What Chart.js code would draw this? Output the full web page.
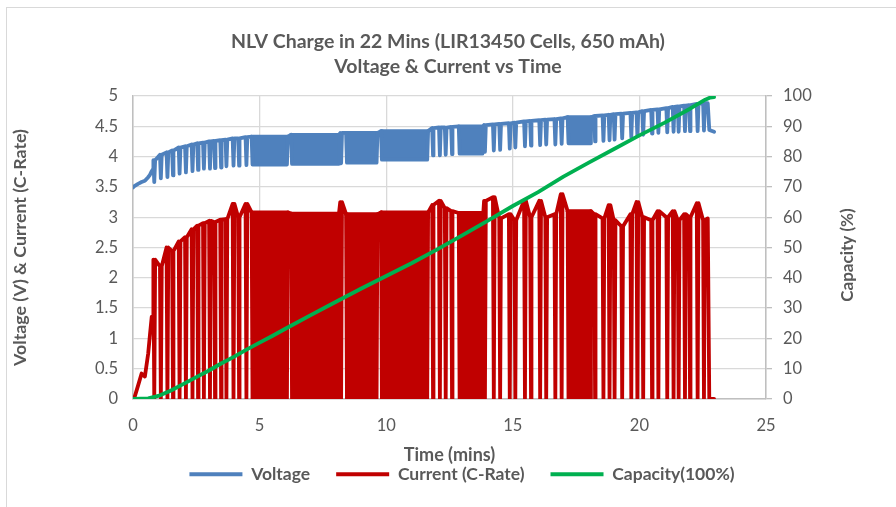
<!DOCTYPE html>
<html lang="en">
<head>
<meta charset="UTF-8">
<title>NLV Charge in 22 Mins</title>
<script src="https://cdn.jsdelivr.net/npm/chart.js@4.4.1/dist/chart.umd.min.js"></script>
<style>
  html, body { margin: 0; padding: 0; background: #fff; }
  #box { position: relative; width: 896px; height: 507px; }
</style>
</head>
<body>
<div id="box"><canvas id="chart"></canvas></div>
<script>
  // start-up, before the pulses begin
  const rampTime    = [0, 0.04, 0.2, 0.34, 0.47, 0.6, 0.67, 0.74, 0.8];
  const rampVoltage = [3.49, 3.51, 3.55, 3.58, 3.60, 3.66, 3.70, 3.76, 3.80];
  const rampCurrent = [0, 0, 0.22, 0.42, 0.37, 0.75, 1.06, 1.36, 1.36];

  // single rest pulses (current drops to 0, voltage relaxes)
  const pulseTime     = [0.84, 1.10, 1.36, 1.58, 1.84, 2.09, 2.35, 2.57, 2.80, 3.04, 3.24, 3.48, 3.69, 3.97, 4.19, 4.48,
                         8.22, 11.85, 12.12, 12.35, 12.60,
                         13.90, 14.25, 14.50, 14.88, 15.10, 15.48, 15.72, 16.08, 16.32, 16.68, 16.93,
                         18.25, 18.58, 18.82, 19.02, 19.32, 19.68, 19.92, 20.15, 20.50, 20.75, 21.10, 21.35, 21.55, 21.80, 22.00, 22.30, 22.55];
  const pulseCurrent  = [2.30, 2.19, 2.50, 2.44, 2.60, 2.67, 2.80, 2.86, 2.90, 2.94, 2.92, 2.96, 2.97, 3.22, 3.00, 3.22,
                         3.25, 3.20, 3.27, 3.15, 3.10,
                         3.27, 3.33, 2.98, 3.05, 2.95, 3.27, 3.00, 3.27, 3.00, 3.05, 3.38,
                         3.05, 2.98, 3.20, 2.95, 2.85, 3.05, 3.25, 3.00, 2.95, 3.10, 3.00, 3.10, 2.95, 3.05, 3.00, 3.23, 2.95];
  const pulseVoltHigh = [3.94, 4.03, 4.07, 4.10, 4.15, 4.17, 4.20, 4.22, 4.23, 4.25, 4.26, 4.27, 4.28, 4.30, 4.30, 4.32,
                         4.39, 4.47, 4.48, 4.48, 4.49,
                         4.52, 4.53, 4.54, 4.55, 4.56, 4.58, 4.59, 4.60, 4.61, 4.62, 4.63,
                         4.67, 4.68, 4.69, 4.70, 4.71, 4.72, 4.73, 4.75, 4.77, 4.78, 4.80, 4.82, 4.83, 4.84, 4.85, 4.87, 4.88];
  const pulseVoltLow  = [3.58, 3.64, 3.66, 3.69, 3.72, 3.74, 3.76, 3.78, 3.80, 3.80, 3.81, 3.82, 3.84, 3.85, 3.85, 3.86,
                         3.89, 4.02, 4.02, 4.03, 4.04,
                         4.08, 4.10, 4.11, 4.13, 4.15, 4.17, 4.18, 4.19, 4.20, 4.20, 4.21,
                         4.25, 4.26, 4.27, 4.28, 4.30, 4.32, 4.34, 4.36, 4.38, 4.39, 4.40, 4.41, 4.41, 4.42, 4.42, 4.42, 4.43];

  // stretches where the pulses run together into a solid band
  const blockStart    = [4.72, 6.28, 8.45, 9.83, 12.90, 17.20];
  const blockEnd      = [6.08, 8.10, 9.62, 11.62, 13.80, 18.05];
  const blockCurrent  = [3.08, 3.06, 3.05, 3.08, 3.07, 3.10];
  const blockVoltHigh = [4.33, 4.36, 4.39, 4.42, 4.50, 4.65];
  const blockVoltLow  = [3.87, 3.88, 3.90, 3.95, 4.05, 4.22];

  // end of charge
  const endTime    = [22.70, 22.76, 22.95];
  const endVoltage = [4.88, 4.44, 4.41];
  const endCurrent = [2.98, 0, 0];

  // capacity (%)
  const capTime  = [0, 0.6, 1.0, 1.5, 2.0, 2.5, 3.0, 3.5, 4.0, 4.5, 5.0, 5.5, 6.0, 7.0, 8.0, 9.0, 10.0, 11.0, 12.0,
                    13.0, 14.0, 15.0, 16.0, 17.0, 18.0, 19.0, 20.0, 21.0, 22.0, 22.6, 22.8, 22.95];
  const capValue = [0, 0.2, 1.0, 2.8, 5.0, 7.2, 9.4, 11.8, 14.0, 16.4, 18.6, 20.8, 23.1, 27.6, 32.0, 36.4, 40.6, 44.8, 49.3,
                    54.0, 58.8, 63.7, 68.3, 73.4, 78.0, 82.5, 87.0, 91.2, 95.8, 98.8, 99.5, 99.6];

  const BLUE = '#4f81bd', RED = '#c00000', GREEN = '#00b050', TXT = '#595959';
  const W = 0.035; // half width of one dip, in minutes

  // put the pulse and band events in time order and build the two traces
  var events = [];
  pulseTime.forEach(function (t, k) {
    events.push({t: t, end: t, i: pulseCurrent[k], vh: pulseVoltHigh[k], vl: pulseVoltLow[k]});
  });
  blockStart.forEach(function (t, k) {
    events.push({t: t, end: blockEnd[k], i: blockCurrent[k], vh: blockVoltHigh[k], vl: blockVoltLow[k]});
  });
  events.sort(function (a, b) { return a.t - b.t; });

  var vPts = [], iPts = [];
  rampTime.forEach(function (t, k) {
    vPts.push({x: t, y: rampVoltage[k]});
    iPts.push({x: t, y: rampCurrent[k]});
  });
  events.forEach(function (e) {
    iPts.push({x: e.t - W, y: e.i}, {x: e.t, y: 0}, {x: e.end, y: 0}, {x: e.end + W, y: e.i});
    vPts.push({x: e.t - W, y: e.vh}, {x: e.t, y: e.vl}, {x: e.end, y: e.vl}, {x: e.end + W, y: e.vh});
  });
  endTime.forEach(function (t, k) {
    vPts.push({x: t, y: endVoltage[k]});
    iPts.push({x: t, y: endCurrent[k]});
  });
  var capPts = capTime.map(function (t, k) { return {x: t, y: capValue[k]}; });

  var line = {pointRadius: 0, borderWidth: 3.8, tension: 0, fill: false, borderJoinStyle: 'round', borderCapStyle: 'round'};

  var datasets = [
    Object.assign({label: 'Voltage', data: vPts, borderColor: BLUE, backgroundColor: BLUE, yAxisID: 'y', order: 2}, line),
    Object.assign({label: 'Current (C-Rate)', data: iPts, borderColor: RED, backgroundColor: RED, yAxisID: 'y', order: 1}, line),
    Object.assign({label: 'Capacity(100%)', data: capPts, borderColor: GREEN, backgroundColor: GREEN, yAxisID: 'y1', order: 0}, line)
  ];
  blockStart.forEach(function (s, k) {
    datasets.push(Object.assign({}, line, {
      data: [{x: s - W, y: blockCurrent[k]}, {x: blockEnd[k] + W, y: blockCurrent[k]}],
      borderColor: RED, backgroundColor: RED, fill: 'origin', yAxisID: 'y', order: 1
    }));
    datasets.push(Object.assign({}, line, {
      data: [{x: s - W, y: blockVoltHigh[k]}, {x: blockEnd[k] + W, y: blockVoltHigh[k]}],
      borderColor: BLUE, backgroundColor: BLUE, fill: {value: blockVoltLow[k]}, yAxisID: 'y', order: 2
    }));
  });

  const frame = {
    id: 'frame',
    beforeDraw: function (c) {
      var ctx = c.ctx;
      ctx.save();
      ctx.fillStyle = '#fff';
      ctx.fillRect(0, 0, c.width, c.height);
      ctx.strokeStyle = '#d9d9d9';
      ctx.lineWidth = 1;
      ctx.strokeRect(6.5, 7.5, 2000, 2000);
      ctx.restore();
    },
    afterLayout: function (c) {
      // legend sits a little right of the page centre
      c.legend.left += 14;
      c.legend.right += 14;
    },
    afterDraw: function (c) {
      // right axis title reads bottom to top, like the left one
      var ctx = c.ctx;
      ctx.save();
      ctx.translate(848, 255);
      ctx.rotate(-Math.PI / 2);
      ctx.fillStyle = TXT;
      ctx.font = 'bold 17px Lato';
      ctx.textAlign = 'center';
      ctx.textBaseline = 'middle';
      ctx.fillText('Capacity (%)', 0, 0);
      ctx.restore();
    }
  };

  new Chart(document.getElementById('chart'), {
    type: 'line',
    data: {datasets: datasets},
    plugins: [frame],
    options: {
      responsive: true,
      maintainAspectRatio: false,
      animation: false,
      layout: {padding: {left: 0, right: 0, top: 0, bottom: 14}},
      plugins: {
        title: {
          display: true,
          text: ['NLV Charge in 22 Mins (LIR13450 Cells, 650 mAh)', 'Voltage & Current vs Time'],
          color: TXT,
          font: {family: 'Lato', size: 19.5, weight: 'bold', lineHeight: 1.282},
          padding: {top: 29.5, bottom: 16.5}
        },
        legend: {
          position: 'bottom',
          labels: {
            boxWidth: 53, boxHeight: 4, padding: 26, color: TXT,
            font: {family: 'Lato', size: 17.5, weight: 'bold'},
            filter: function (item) { return item.datasetIndex < 3; },
            sort: function (a, b) { return a.datasetIndex - b.datasetIndex; },
            generateLabels: function (c) {
              return Chart.defaults.plugins.legend.labels.generateLabels(c).map(function (l) {
                l.lineWidth = 0;
                return l;
              });
            }
          }
        },
        tooltip: {enabled: false}
      },
      scales: {
        x: {
          type: 'linear', min: 0, max: 25,
          afterFit: function (s) { s.height = 40.5; },
          ticks: {stepSize: 5, color: TXT, font: {family: 'Lato', size: 16.5}, padding: 17},
          grid: {color: '#d9d9d9', lineWidth: 1.3, drawTicks: false},
          border: {color: '#bfbfbf', width: 1.5},
          // title sits below its fixed-height box, in the legend's top padding
          title: {display: true, text: 'Time (mins)', color: TXT, font: {family: 'Lato', size: 18, weight: 'bold'},
                  padding: {top: 0, bottom: -26}}
        },
        y: {
          position: 'left', min: 0, max: 5,
          afterFit: function (s) { s.width = 133; },
          ticks: {stepSize: 0.5, color: TXT, font: {family: 'Lato', size: 16.5}, padding: 15,
                  callback: function (v) { return String(v); }},
          grid: {color: '#d9d9d9', lineWidth: 1.3, drawTicks: false},
          border: {color: '#bfbfbf', width: 1.5},
          title: {display: true, text: 'Voltage (V) & Current (C-Rate)', color: TXT,
                  font: {family: 'Lato', size: 17.8, weight: 'bold'}, padding: {top: 10, bottom: 0}}
        },
        y1: {
          position: 'right', min: 0, max: 100,
          afterFit: function (s) { s.width = 130; },
          ticks: {stepSize: 10, color: TXT, font: {family: 'Lato', size: 16.5}, padding: 11},
          grid: {drawOnChartArea: false, drawTicks: true, tickLength: 6, color: '#bfbfbf', lineWidth: 1.3},
          border: {color: '#bfbfbf', width: 1.5}
        }
      }
    }
  });
</script>
</body>
</html>
